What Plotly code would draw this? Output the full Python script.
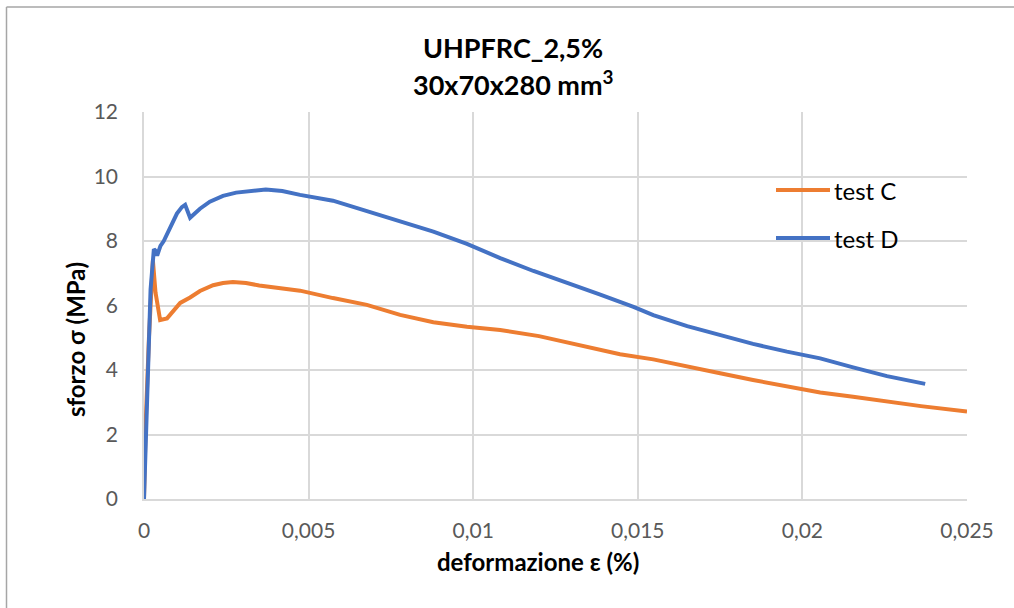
import plotly.graph_objects as go

# Stress-strain curves, UHPFRC 2.5% fibres, 30x70x280 mm^3 specimens
strain_c = [0.0, 0.00005, 0.00015, 0.00027, 0.00035, 0.00049, 0.0007, 0.0009, 0.0011,
            0.0014, 0.0017, 0.0021, 0.0024, 0.0027, 0.0031, 0.0035, 0.004, 0.00474,
            0.00574, 0.00677, 0.00778, 0.00879, 0.00981, 0.01082, 0.012, 0.013,
            0.014, 0.01446, 0.01547, 0.0165, 0.0175, 0.0185, 0.01953, 0.02054,
            0.02154, 0.02257, 0.0236, 0.025]
stress_c = [0.0, 2.3, 5.0, 7.4, 6.4, 5.55, 5.6, 5.85, 6.08, 6.25, 6.45, 6.63, 6.7,
            6.73, 6.7, 6.62, 6.55, 6.46, 6.23, 6.02, 5.71, 5.48, 5.34, 5.24, 5.05,
            4.83, 4.6, 4.49, 4.33, 4.1, 3.9, 3.69, 3.48, 3.3, 3.17, 3.02, 2.88, 2.71]

strain_d = [0.0, 0.0001, 0.0002, 0.0003, 0.00035, 0.0004, 0.0005, 0.0006, 0.0008,
            0.001, 0.00115, 0.00125, 0.0014, 0.0017, 0.002, 0.0024, 0.0028,
            0.0033, 0.0037, 0.0042, 0.00474, 0.00574, 0.00677, 0.00778, 0.00879,
            0.00981, 0.01082, 0.01183, 0.01285, 0.01386, 0.01487, 0.01547,
            0.0165, 0.0175, 0.0185, 0.01953, 0.02054, 0.02154, 0.02257, 0.02373]
stress_d = [0.0, 3.5, 6.5, 7.75, 7.7, 7.55, 7.85, 8.0, 8.45, 8.85, 9.05, 9.12, 8.72,
            9.0, 9.22, 9.4, 9.5, 9.55, 9.6, 9.55, 9.43, 9.25, 8.93, 8.6, 8.29, 7.91,
            7.47, 7.07, 6.71, 6.34, 5.96, 5.7, 5.36, 5.09, 4.81, 4.57, 4.36,
            4.08, 3.81, 3.57]

series = [("test C", strain_c, stress_c, "#ed7d31"),
          ("test D", strain_d, stress_d, "#4472c4")]

title_lines = ["UHPFRC_2,5%", "30x70x280 mm<sup>3</sup>"]
x_title = "deformazione ε (%)"
y_title = "sforzo σ (MPa)"

x_ticks = [0, 0.005, 0.01, 0.015, 0.02, 0.025]
x_tick_labels = ["0", "0,005", "0,01", "0,015", "0,02", "0,025"]
y_ticks = [0, 2, 4, 6, 8, 10, 12]

FONT = "Lato, 'Open Sans', sans-serif"

# plot-area geometry in pixels (frame, titles and legend are placed in paper units)
L, R, T, B = 144, 967, 112, 499
PW, PH = R - L, B - T


def px_x(px):
    return (px - L) / PW


def px_y(py):
    return (B - py) / PH


fig = go.Figure()
for name, xs, ys, color in series:
    fig.add_trace(go.Scatter(x=xs, y=ys, name=name, mode="lines",
                             line=dict(color=color, width=4), showlegend=False))

fig.update_layout(
    width=1014, height=608,
    paper_bgcolor="white", plot_bgcolor="white",
    margin=dict(l=L, r=1014 - R, t=T, b=608 - B),
    font=dict(family=FONT, color="#595959", size=21),
)

# two-line bold chart title
for line, py in zip(title_lines, [47, 83]):
    fig.add_annotation(text=f"<b>{line}</b>", xref="paper", yref="paper",
                       x=px_x(513), y=px_y(py), xanchor="center", yanchor="middle",
                       showarrow=False, font=dict(size=27, color="#000000", family=FONT))

# axis titles
fig.add_annotation(text=f"<b>{x_title}</b>", xref="paper", yref="paper",
                   x=px_x(538), y=px_y(561), xanchor="center", yanchor="middle",
                   showarrow=False, font=dict(size=24, color="#000000", family=FONT))
fig.add_annotation(text=f"<b>{y_title}</b>", xref="paper", yref="paper", textangle=-90,
                   x=px_x(75), y=px_y(340), xanchor="center", yanchor="middle",
                   showarrow=False, font=dict(size=24, color="#000000", family=FONT))

# legend: sample line plus label for each series
for (name, _, _, color), py in zip(series, [190, 238]):
    fig.add_shape(type="line", xref="paper", yref="paper",
                  x0=px_x(776), x1=px_x(830), y0=px_y(py), y1=px_y(py),
                  line=dict(color=color, width=4))
    fig.add_annotation(text=name, xref="paper", yref="paper",
                       x=px_x(832), y=px_y(py), xanchor="left", yanchor="middle",
                       showarrow=False, font=dict(size=24, color="#000000", family=FONT))

fig.update_xaxes(range=[0, 0.025], tickvals=x_ticks, ticktext=x_tick_labels,
                 showgrid=True, gridcolor="#d9d9d9", gridwidth=1.5,
                 showline=True, linecolor="#d9d9d9", linewidth=1.5,
                 zeroline=False, ticks="", ticklabelstandoff=12)
fig.update_yaxes(range=[0, 12], tickvals=y_ticks,
                 showgrid=True, gridcolor="#d9d9d9", gridwidth=1.5,
                 showline=True, linecolor="#d9d9d9", linewidth=1.5,
                 zeroline=False, ticks="", ticklabelstandoff=20)

# chart frame (left and top edges)
fig.add_shape(type="line", xref="paper", yref="paper",
              x0=px_x(6.5), x1=px_x(6.5), y0=px_y(7), y1=px_y(620),
              line=dict(color="#a6a6a6", width=1.5))
fig.add_shape(type="line", xref="paper", yref="paper",
              x0=px_x(6.5), x1=px_x(1020), y0=px_y(7), y1=px_y(7),
              line=dict(color="#a6a6a6", width=1.5))

fig.write_html("out.html")
